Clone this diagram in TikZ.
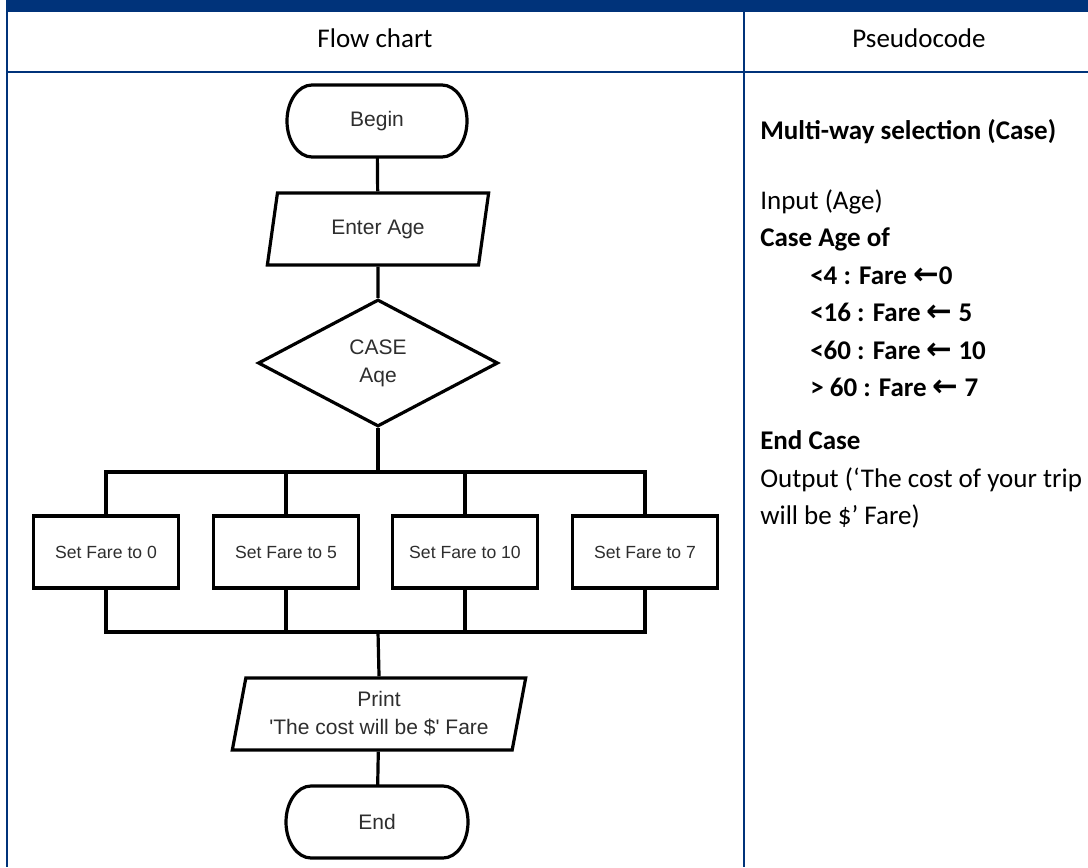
\documentclass[tikz,border=0pt]{standalone}
\usepackage{fontspec}
\setmainfont{Carlito}
\newfontfamily\chartfont{Liberation Sans}
\newfontfamily\arrowfont{DejaVu Sans}
\usetikzlibrary{shapes.geometric}
\definecolor{navy}{RGB}{0,51,122}
\definecolor{inkgray}{HTML}{2E2E2E}
\newcommand{\getsarrow}{{\arrowfont\bfseries\fontsize{23}{24}\selectfont ←}}
% outline of a terminal node: straight top and bottom, half-ellipse ends
\newcommand{\stadium}[1]{%
  \draw[flow] ([xshift=18.75pt]#1.north west) -- ([xshift=-18.75pt]#1.north east)
    arc[start angle=90,end angle=-90,x radius=18.75pt,y radius=27pt]
    -- ([xshift=18.75pt]#1.south west)
    arc[start angle=270,end angle=90,x radius=18.75pt,y radius=27pt] -- cycle;}

\begin{document}
\begin{tikzpicture}[x=0.75pt,y=-0.75pt,
  flow/.style={line width=2.4pt,draw=black},
  chartbig/.style={font=\chartfont\fontsize{15.75}{21}\selectfont,text=inkgray,align=center},
  chartsmall/.style={font=\chartfont\fontsize{13.2}{16}\selectfont,text=inkgray,align=center},
  term/.style={rectangle,minimum height=54pt,inner sep=0pt,outer sep=0pt,chartbig},
  io/.style={trapezium,trapezium left angle=76,trapezium right angle=104,trapezium stretches=true,
             draw,line width=2.4pt,minimum height=54pt,inner sep=0pt,chartbig},
  decide/.style={diamond,draw,line width=2.4pt,minimum width=180pt,minimum height=95.25pt,inner sep=0pt,chartbig},
  process/.style={rectangle,draw,line width=2.4pt,minimum width=108.75pt,minimum height=54pt,inner sep=0pt,chartsmall},
  head/.style={anchor=base,font=\fontsize{20.25}{24}\selectfont,text=black},
  code/.style={anchor=base west,font=\fontsize{20.25}{24}\selectfont,text=black,inner sep=0pt},
  rule/.style={draw=navy}]

% page area and table frame
\useasboundingbox (0,0) rectangle (1088,867);
\fill[white] (0,0) rectangle (1088,867);
\fill[navy] (6,0) rectangle (1088,12);
\draw[rule,line width=1.6pt] (7,12) -- (7,867);
\draw[rule,line width=1.6pt] (7,72) -- (1088,72);
\draw[rule,line width=1.9pt] (744,12) -- (744,867);

% column headings
\node[head] (hflow) at (375,48) {Flow chart};
\node[head] (hpseudo) at (919,48) {Pseudocode};

% flow chart
\node[term,minimum width=135pt] (begin) at (377,121) {Begin};
\stadium{begin}
\node[io,minimum width=167pt] (enter) at (378,229) {Enter Age};
\node[decide] (case) at (378,363) {CASE\\Aqe};
\node[process] (f0) at (106,552) {Set Fare to 0};
\node[process] (f1) at (286,552) {Set Fare to 5};
\node[process] (f2) at (465,552) {Set Fare to 10};
\node[process] (f3) at (645,552) {Set Fare to 7};
\node[io,minimum width=220.5pt] (print) at (379,714) {Print\\\textquotesingle The cost will be \$\textquotesingle{} Fare};
\node[term,minimum width=136.5pt] (end) at (377,822) {End};
\stadium{end}

\coordinate (split) at (378,472);
\coordinate (join) at (378,632);

\draw[flow] (begin) -- (enter);
\draw[flow] (enter) -- (case);
\draw[flow] (case.south) -- (split);
\draw[flow] (f0.north) -- (f0.north |- split) -- (f3.north |- split) -- (f3.north);
\draw[flow] (f1.north) -- (f1.north |- split);
\draw[flow] (f2.north) -- (f2.north |- split);
\draw[flow] (f0.south) -- (f0.south |- join) -- (f3.south |- join) -- (f3.south);
\draw[flow] (f1.south) -- (f1.south |- join);
\draw[flow] (f2.south) -- (f2.south |- join);
\draw[flow] (join) -- (print.north);
\draw[flow] (print) -- (end);

% pseudocode
\node[code] (title) at (760,139) {\bfseries Multi-way selection (Case)};
\node[code] (input) at (760,209) {Input (Age)};
\node[code] (caseof) at (760,246) {\bfseries Case Age of};
\node[code] (c1) at (810,284) {\bfseries <4 : Fare \getsarrow0};
\node[code] (c2) at (810,321) {\bfseries <16 : Fare \getsarrow{} 5};
\node[code] (c3) at (810,359) {\bfseries <60 : Fare \getsarrow{} 10};
\node[code] (c4) at (810,396) {\bfseries > 60 : Fare \getsarrow{} 7};
\node[code] (endcase) at (760,449) {\bfseries End Case};
\node[code] (out1) at (760,487) {Output (‘The cost of your trip};
\node[code] (out2) at (760,524) {will be \$’ Fare)};
\end{tikzpicture}
\end{document}
